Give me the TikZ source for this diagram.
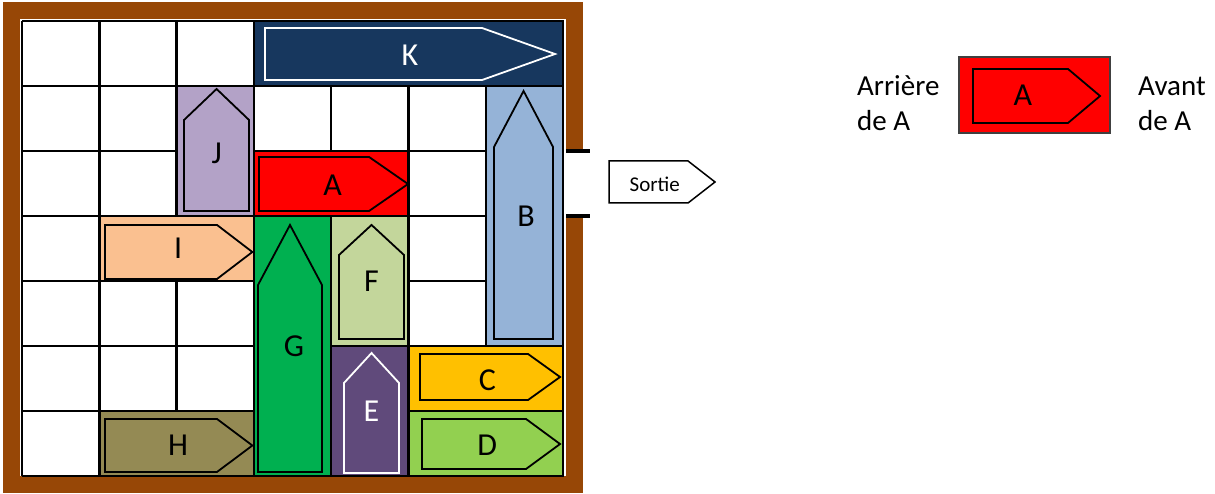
\documentclass[tikz,border=0pt]{standalone}
\usepackage{fontspec}
\setmainfont{Carlito}
\usepackage{tikz}
\usetikzlibrary{positioning}
\definecolor{wood}{RGB}{151,71,6}
\definecolor{carK}{HTML}{17375E}
\definecolor{carJ}{HTML}{B3A2C7}
\definecolor{carB}{HTML}{95B3D7}
\definecolor{carI}{HTML}{FAC090}
\definecolor{carG}{HTML}{00B050}
\definecolor{carF}{HTML}{C3D69B}
\definecolor{carE}{HTML}{604A7B}
\definecolor{carC}{HTML}{FFC000}
\definecolor{carD}{HTML}{92D050}
\definecolor{carH}{HTML}{948A54}
\definecolor{rim}{RGB}{64,64,64}

\begin{document}
\begin{tikzpicture}[x=77.29pt,y=65pt,
  box/.style={draw=black,line width=2.5pt},
  hull/.style={line width=1.8pt,line join=miter},
  lbl/.style={font=\fontsize{32}{38}\selectfont},
  side/.style={font=\fontsize{29}{35}\selectfont,align=left,anchor=west,inner sep=0pt}]
\useasboundingbox (-0.285,-0.262) rectangle (15.435,7.323);
% board
\draw[wood,line width=17pt,line join=miter] (7.148,5) -- (7.148,7.162) -- (-0.136,7.162) -- (-0.136,-0.138) -- (7.148,-0.138) -- (7.148,4);
\draw[line width=2.5pt] (0,0) grid[step={(1,1)}] (7,7);
\draw[line width=4pt] (7.038,5) -- (7.349,5);
\draw[line width=4pt] (7.038,4) -- (7.349,4);
% cars
\filldraw[box,fill=carK] (3,6) rectangle (7,7);
\draw[hull,white] (3.144,6.092) -- (5.952,6.092) -- (6.896,6.492) -- (5.952,6.892) -- (3.144,6.892) -- cycle;
\filldraw[box,fill=carJ] (2,4) rectangle (3,6);
\draw[hull] (2.096,4.077) -- (2.096,5.477) -- (2.517,5.954) -- (2.937,5.477) -- (2.937,4.077) -- cycle;
\filldraw[box,fill=red] (3,4) rectangle (5,5);
\draw[hull] (3.066,4.077) -- (4.490,4.077) -- (4.994,4.492) -- (4.490,4.908) -- (3.066,4.908) -- cycle;
\filldraw[box,fill=carB] (6,2) rectangle (7,6);
\draw[hull] (6.107,2.108) -- (6.107,5.062) -- (6.489,5.923) -- (6.870,5.062) -- (6.870,2.108) -- cycle;
\filldraw[box,fill=carI] (1,3) rectangle (3,4);
\draw[hull] (1.074,3.031) -- (2.523,3.031) -- (2.980,3.446) -- (2.523,3.862) -- (1.074,3.862) -- cycle;
\filldraw[box,fill=carG] (3,0) rectangle (4,4);
\draw[hull] (3.053,0.062) -- (3.053,2.938) -- (3.467,3.862) -- (3.881,2.938) -- (3.881,0.062) -- cycle;
\filldraw[box,fill=carF] (4,2) rectangle (5,4);
\draw[hull] (4.101,2.108) -- (4.101,3.400) -- (4.522,3.862) -- (4.942,3.400) -- (4.942,2.108) -- cycle;
\filldraw[box,fill=carE] (4,0) rectangle (5,2);
\draw[hull,white] (4.166,0.046) -- (4.166,1.431) -- (4.522,1.892) -- (4.878,1.431) -- (4.878,0.046) -- cycle;
\filldraw[box,fill=carC] (5,1) rectangle (7,2);
\draw[hull] (5.149,1.169) -- (6.547,1.169) -- (6.961,1.523) -- (6.547,1.877) -- (5.149,1.877) -- cycle;
\filldraw[box,fill=carD] (5,0) rectangle (7,1);
\draw[hull] (5.175,0.108) -- (6.521,0.108) -- (6.961,0.492) -- (6.521,0.877) -- (5.175,0.877) -- cycle;
\filldraw[box,fill=carH] (1,0) rectangle (3,1);
\draw[hull] (1.074,0.062) -- (2.523,0.062) -- (2.980,0.469) -- (2.523,0.877) -- (1.074,0.877) -- cycle;
% labels
\node[lbl,white] (K) at (5.02,6.48) {K};
\node[lbl] (J) at (2.52,4.97) {J};
\node[lbl] (A) at (4.02,4.48) {A};
\node[lbl] (B) at (6.52,3.99) {B};
\node[lbl] (I) at (2.02,3.51) {I};
\node[lbl] (G) at (3.52,1.99) {G};
\node[lbl] (F) at (4.52,2.99) {F};
\node[lbl,white] (E) at (4.52,0.99) {E};
\node[lbl] (C) at (6.02,1.48) {C};
\node[lbl] (D) at (6.02,0.48) {D};
\node[lbl] (H) at (2.02,0.48) {H};
% exit
\filldraw[fill=white,line width=1.5pt,line join=miter] (7.595,4.2) -- (8.617,4.2) -- (8.966,4.523) -- (8.617,4.846) -- (7.595,4.846) -- cycle;
\node[font=\fontsize{21}{25}\selectfont] (sortie) at (8.186,4.49) {Sortie};
% legend
\filldraw[fill=red,draw=rim,line width=1.2pt] (12.123,5.277) rectangle (14.077,6.446);
\draw[hull] (12.304,5.431) -- (13.533,5.431) -- (13.948,5.846) -- (13.533,6.262) -- (12.304,6.262) -- cycle;
\node[lbl] (legA) at (12.95,5.86) {A};
\node[side] (arriere) at (10.803,5.73) {Arrière\\de A};
\node[side] (avant) at (14.439,5.73) {Avant\\de A};
\end{tikzpicture}
\end{document}
